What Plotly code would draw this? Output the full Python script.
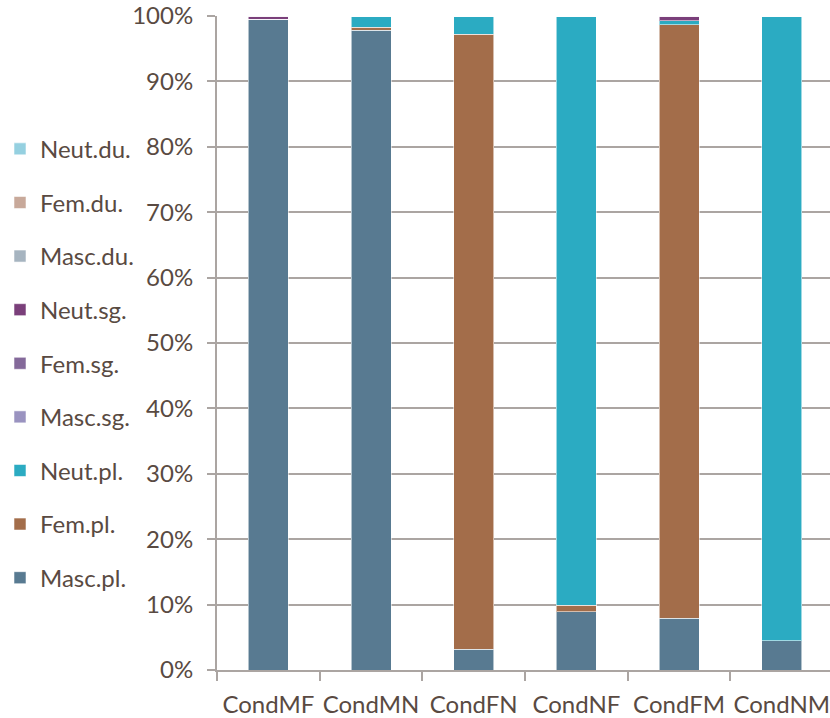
import plotly.graph_objects as go

conditions = ["CondMF", "CondMN", "CondFN", "CondNF", "CondFM", "CondNM"]

# percentage of responses per condition, by gender/number category
masc_pl = [99.4, 97.8, 3.2, 8.9, 7.9, 4.5]
fem_pl = [0.0, 0.5, 94.0, 1.0, 90.8, 0.0]
neut_pl = [0.0, 1.7, 2.8, 90.1, 0.6, 95.5]
masc_sg = [0.1, 0.0, 0.0, 0.0, 0.0, 0.0]
fem_sg = [0.0, 0.0, 0.0, 0.0, 0.0, 0.0]
neut_sg = [0.5, 0.0, 0.0, 0.0, 0.7, 0.0]
masc_du = [0.0, 0.0, 0.0, 0.0, 0.0, 0.0]
fem_du = [0.0, 0.0, 0.0, 0.0, 0.0, 0.0]
neut_du = [0.0, 0.0, 0.0, 0.0, 0.0, 0.0]

series = [
    ("Masc.pl.", masc_pl, "#587a91"),
    ("Fem.pl.", fem_pl, "#a36d4a"),
    ("Neut.pl.", neut_pl, "#2babc2"),
    ("Masc.sg.", masc_sg, "#9a93c0"),
    ("Fem.sg.", fem_sg, "#84699a"),
    ("Neut.sg.", neut_sg, "#7a3f7a"),
    ("Masc.du.", masc_du, "#a6b4c0"),
    ("Fem.du.", fem_du, "#c8a99a"),
    ("Neut.du.", neut_du, "#95d0e0"),
]

text_color = "#594a42"
grid_color = "#aba5a2"
font_family = "Lato"

fig = go.Figure()
n = len(series)
for i, (name, vals, color) in enumerate(series):
    fig.add_trace(go.Bar(
        x=conditions,
        y=vals,
        name=name,
        legendgroup=name,
        legendrank=n - i,
        marker=dict(color=color, line=dict(color="rgba(255,255,255,0.55)", width=1)),
    ))

fig.update_layout(
    width=830,
    height=718,
    barmode="stack",
    bargap=0.61,
    plot_bgcolor="white",
    paper_bgcolor="white",
    margin=dict(l=217, r=0, t=16, b=48),
    font=dict(family=font_family, size=24, color=text_color),
    legend=dict(
        xref="container",
        x=0.0, y=0.469, xanchor="left", yanchor="middle",
        traceorder="grouped",
        tracegroupgap=19.4,
        font=dict(size=24, color=text_color),
        itemwidth=30,
        bgcolor="rgba(0,0,0,0)",
    ),
    xaxis=dict(
        type="category",
        range=[-0.5, 5.47],
        automargin=False,
        tickangle=0,
        tickson="boundaries",
        ticks="outside",
        ticklen=9,
        tickwidth=2,
        tickcolor=grid_color,
        showline=True,
        linecolor=grid_color,
        linewidth=2,
        showgrid=False,
        ticklabelstandoff=12,
        tickfont=dict(size=24, color=text_color),
    ),
    yaxis=dict(
        range=[0, 100],
        automargin=False,
        tickvals=[0, 10, 20, 30, 40, 50, 60, 70, 80, 90, 100],
        ticktext=[f"{v}%" for v in range(0, 101, 10)],
        ticks="outside",
        ticklen=8,
        tickwidth=2,
        tickcolor=grid_color,
        showline=True,
        linecolor=grid_color,
        linewidth=2,
        showgrid=True,
        gridcolor=grid_color,
        gridwidth=1.5,
        zeroline=False,
        ticklabelstandoff=9,
        tickfont=dict(size=24, color=text_color),
    ),
)

fig.write_html("out.html")
